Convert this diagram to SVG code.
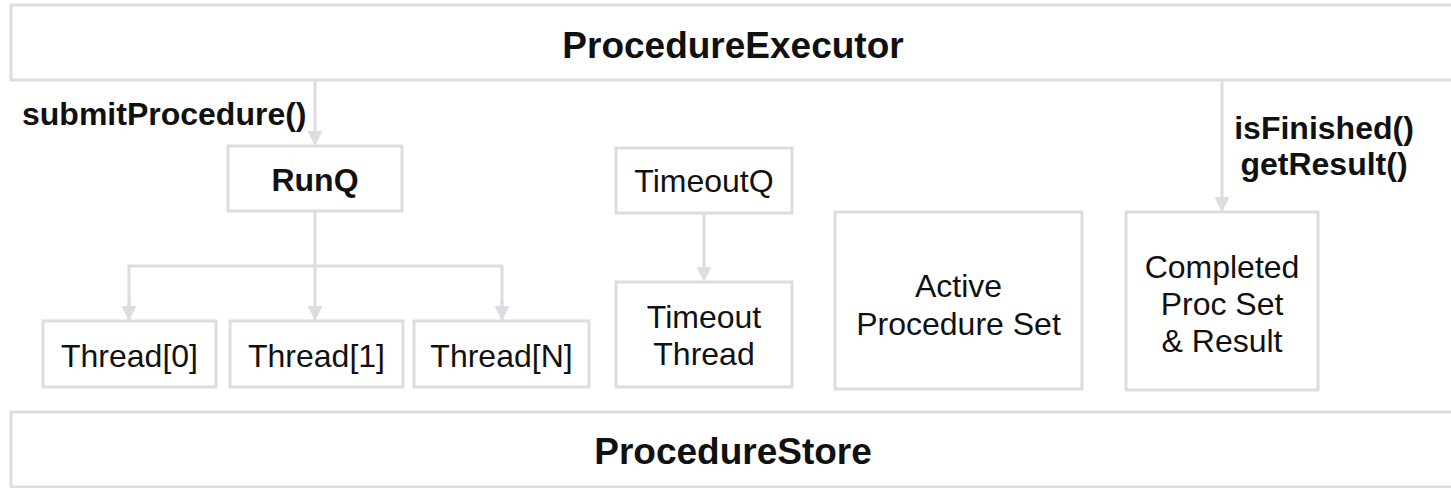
<svg xmlns="http://www.w3.org/2000/svg" width="1451" height="488" viewBox="0 0 1451 488">
  <style>
    .box { fill: #ffffff; stroke: #dcdde0; stroke-width: 3; }
    .conn { fill: none; stroke: #dcdde0; stroke-width: 3; }
    .t { font-family: "Liberation Sans", Arial, Helvetica, sans-serif; fill: #111111; text-anchor: middle; }
    .b { font-weight: bold; }
    .r { font-size: 32px; font-weight: normal; }
    .m { font-size: 32px; }
    .title { font-size: 37px; }
  </style>
  <defs>
    <marker id="ah" markerUnits="userSpaceOnUse" markerWidth="16" markerHeight="16" refX="15" refY="7.5" orient="auto" viewBox="0 0 16 16">
      <path d="M0,0 L15,7.5 L0,15 z" fill="#dcdde0"/>
    </marker>
  </defs>
  <rect width="1451" height="488" fill="#ffffff"/>

  <g id="procedure-executor">
    <rect class="box" x="11" y="5" width="1448" height="75"/>
    <text class="t b title" x="733" y="58">ProcedureExecutor</text>
  </g>

  <g id="procedure-store">
    <rect class="box" x="11" y="412" width="1448" height="75"/>
    <text class="t b title" x="733" y="464">ProcedureStore</text>
  </g>

  <g id="connectors">
    <line class="conn" x1="315" y1="80" x2="315" y2="146" marker-end="url(#ah)"/>
    <line class="conn" x1="315" y1="211" x2="315" y2="321" marker-end="url(#ah)"/>
    <polyline class="conn" points="129,321 129,266 502,266 502,321"/>
    <line class="conn" x1="129" y1="300" x2="129" y2="321" marker-end="url(#ah)"/>
    <line class="conn" x1="502" y1="300" x2="502" y2="321" marker-end="url(#ah)"/>
    <line class="conn" x1="704" y1="213" x2="704" y2="282" marker-end="url(#ah)"/>
    <line class="conn" x1="1222" y1="80" x2="1222" y2="212" marker-end="url(#ah)"/>
    <text class="t b m" x="22" y="125" style="text-anchor:start">submitProcedure()</text>
    <text class="t b m" x="1324" y="139">isFinished()</text>
    <text class="t b m" x="1324" y="175">getResult()</text>
  </g>

  <g id="runq">
    <rect class="box" x="228" y="146" width="174" height="65"/>
    <text class="t b m" x="315" y="191">RunQ</text>
  </g>

  <g id="thread-0">
    <rect class="box" x="43" y="321" width="173" height="66"/>
    <text class="t r" x="129.5" y="367">Thread[0]</text>
  </g>
  <g id="thread-1">
    <rect class="box" x="230" y="321" width="173" height="66"/>
    <text class="t r" x="316.5" y="367">Thread[1]</text>
  </g>
  <g id="thread-n">
    <rect class="box" x="414" y="321" width="175" height="66"/>
    <text class="t r" x="501.5" y="367">Thread[N]</text>
  </g>

  <g id="timeoutq">
    <rect class="box" x="616" y="148" width="176" height="65"/>
    <text class="t r" x="704" y="192">TimeoutQ</text>
  </g>
  <g id="timeout-thread">
    <rect class="box" x="616" y="282" width="176" height="105"/>
    <text class="t r" x="704" y="328">Timeout</text>
    <text class="t r" x="704" y="365">Thread</text>
  </g>

  <g id="active-procedure-set">
    <rect class="box" x="835" y="212" width="247" height="177"/>
    <text class="t r" x="958.5" y="297">Active</text>
    <text class="t r" x="958.5" y="335">Procedure Set</text>
  </g>

  <g id="completed-proc-set">
    <rect class="box" x="1126" y="212" width="192" height="178"/>
    <text class="t r" x="1222" y="278">Completed</text>
    <text class="t r" x="1222" y="315">Proc Set</text>
    <text class="t r" x="1222" y="352">&amp; Result</text>
  </g>
</svg>
